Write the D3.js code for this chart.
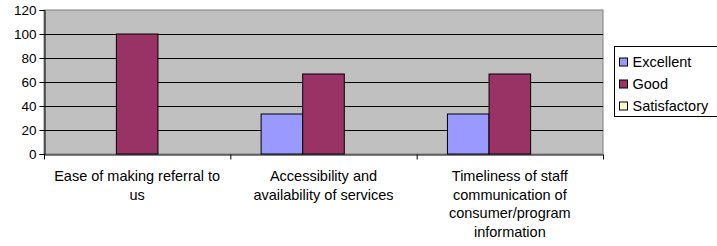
<html lang="en">
<head>
<meta charset="UTF-8">
<title>Referral survey chart</title>
<script src="https://d3js.org/d3.v7.min.js"></script>
<style>
  body { margin: 0; background: #fff; }
  text { font-family: "Liberation Sans", Arial, sans-serif; fill: #000; }
</style>
</head>
<body>
<script>
// Chart data
const categories = [
  ["Ease of making referral to", "us"],
  ["Accessibility and", "availability of services"],
  ["Timeliness of staff", "communication of", "consumer/program", "information"]
];
const seriesNames = ["Excellent", "Good", "Satisfactory"];
const excellent = [0, 33.33, 33.33];
const good = [100, 66.67, 66.67];
const satisfactory = [0, 0, 0];
const yTicks = [0, 20, 40, 60, 80, 100, 120];

const colors = ["#9999FF", "#993366", "#FFFFCC"];
const seriesValues = [excellent, good, satisfactory];

const w = 717, h = 246;
const plot = { left: 44, top: 10, right: 603, bottom: 154 };

const svg = d3.select("body").append("svg")
  .attr("width", w)
  .attr("height", h);

const x0 = d3.scaleBand()
  .domain(d3.range(categories.length))
  .range([plot.left, plot.right])
  .paddingInner(0)
  .paddingOuter(0);

const x1 = d3.scaleBand()
  .domain(d3.range(seriesNames.length))
  .range([0, x0.bandwidth()])
  .paddingInner(0)
  .paddingOuter(0.74);

const y = d3.scaleLinear()
  .domain([0, 120])
  .range([plot.bottom, plot.top]);

// plot background
svg.append("rect")
  .attr("x", plot.left)
  .attr("y", plot.top)
  .attr("width", plot.right - plot.left)
  .attr("height", plot.bottom - plot.top)
  .attr("fill", "#C0C0C0")
  .attr("stroke", "#808080")
  .attr("stroke-width", 1);

// gridlines
svg.append("g")
  .selectAll("line")
  .data(yTicks.filter(d => d > 0 && d < 120))
  .join("line")
  .attr("x1", plot.left)
  .attr("x2", plot.right)
  .attr("y1", d => Math.round(y(d)) + 0.5)
  .attr("y2", d => Math.round(y(d)) + 0.5)
  .attr("stroke", "#000")
  .attr("stroke-width", 1);

// bars
const groups = svg.append("g")
  .selectAll("g")
  .data(categories.map((c, i) => i))
  .join("g")
  .attr("transform", i => `translate(${x0(i)},0)`);

groups.selectAll("rect")
  .data(i => seriesValues.map((vals, s) => ({ s, v: vals[i] })))
  .join("rect")
  .filter(d => d.v > 0)
  .attr("x", d => x1(d.s))
  .attr("y", d => y(d.v))
  .attr("width", x1.bandwidth())
  .attr("height", d => y(0) - y(d.v))
  .attr("fill", d => colors[d.s])
  .attr("stroke", "#000")
  .attr("stroke-width", 1);

// y axis
const yAxis = d3.axisLeft(y).tickValues(yTicks).tickSize(5).tickPadding(3);
const gy = svg.append("g")
  .attr("transform", `translate(${plot.left + 0.5},0)`)
  .call(yAxis);
gy.select(".domain").attr("stroke", "#000");
gy.selectAll("text")
  .style("font-size", "13.5px")
  .attr("dy", "0.35em");

// x axis
const xAxis = d3.axisBottom(d3.scaleLinear().domain([0, categories.length]).range([plot.left, plot.right]))
  .tickValues(d3.range(categories.length + 1))
  .tickSize(5)
  .tickSizeOuter(0)
  .tickFormat("");
svg.append("g")
  .attr("transform", `translate(0,${plot.bottom + 0.5})`)
  .call(xAxis)
  .select(".domain").attr("stroke", "#000");

// category labels
const labels = svg.append("g")
  .selectAll("text")
  .data(categories)
  .join("text")
  .attr("text-anchor", "middle")
  .style("font-size", "14.5px")
  .attr("transform", (d, i) => `translate(${x0(i) + x0.bandwidth() / 2},${plot.bottom + 27})`);
labels.selectAll("tspan")
  .data(d => d)
  .join("tspan")
  .attr("x", 0)
  .attr("y", (d, i) => i * 18.7)
  .text(d => d);

// legend
const legend = svg.append("g").attr("transform", "translate(614.5,46.5)");
legend.append("rect")
  .attr("width", 110)
  .attr("height", 70)
  .attr("fill", "#fff")
  .attr("stroke", "#000");
const items = legend.selectAll("g.item")
  .data(seriesNames)
  .join("g")
  .attr("class", "item")
  .attr("transform", (d, i) => `translate(5,${15.5 + i * 22})`);
items.append("rect")
  .attr("x", 0)
  .attr("y", -4)
  .attr("width", 8)
  .attr("height", 8)
  .attr("fill", (d, i) => colors[i])
  .attr("stroke", "#000");
items.append("text")
  .attr("x", 13)
  .attr("dy", "0.35em")
  .style("font-size", "14.5px")
  .text(d => d);
</script>
</body>
</html>
